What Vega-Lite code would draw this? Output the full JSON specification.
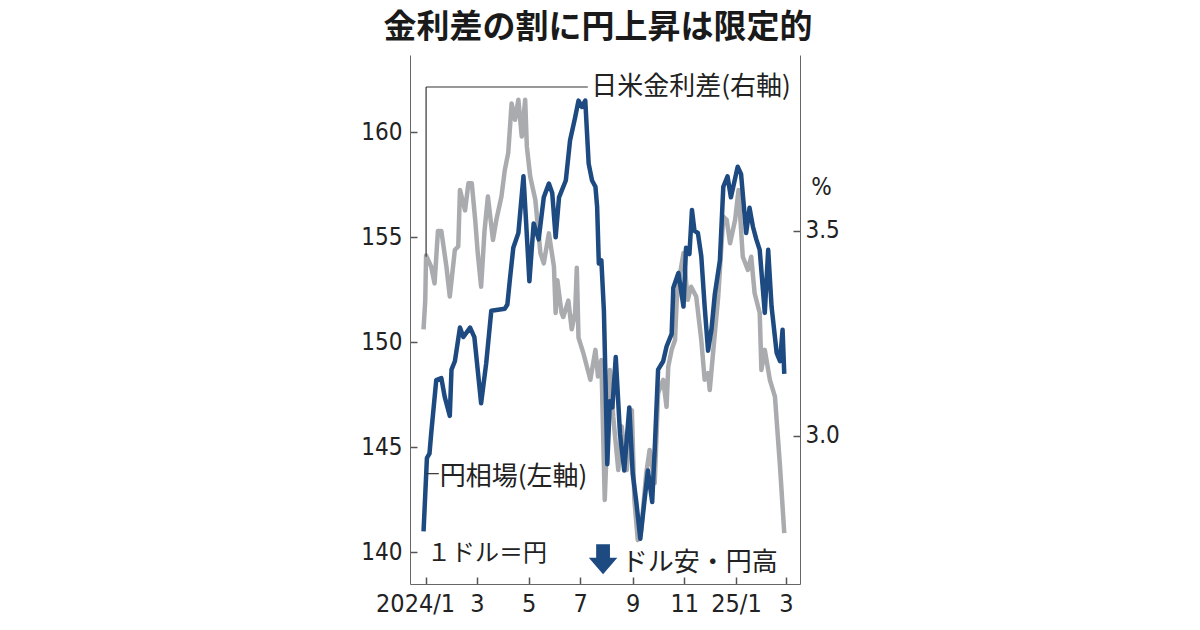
{
  "$schema": "https://vega.github.io/schema/vega-lite/v6.json",
  "width": 390,
  "height": 529,
  "autosize": {"type": "none"},
  "padding": {"left": 410, "top": 55, "right": 400, "bottom": 46},
  "background": "white",
  "config": {
    "view": {"stroke": null},
    "font": "Noto Sans CJK JP"
  },
  "title": {
    "text": "金利差の割に円上昇は限定的",
    "font": "Noto Sans CJK JP",
    "fontSize": 33,
    "fontWeight": "bold",
    "color": "#1a1a1a",
    "anchor": "middle",
    "offset": 10,
    "dx": -7
  },
  "datasets": {
    "spread": [
      {"date": "2023/12/29", "v": 3.26},
      {"date": "2023/12/31", "v": 3.33},
      {"date": "2024/01/01", "v": 3.44},
      {"date": "2024/01/07", "v": 3.413},
      {"date": "2024/01/11", "v": 3.372},
      {"date": "2024/01/15", "v": 3.5},
      {"date": "2024/01/19", "v": 3.5},
      {"date": "2024/01/25", "v": 3.413},
      {"date": "2024/01/29", "v": 3.34},
      {"date": "2024/02/04", "v": 3.454},
      {"date": "2024/02/08", "v": 3.462},
      {"date": "2024/02/10", "v": 3.6},
      {"date": "2024/02/16", "v": 3.55},
      {"date": "2024/02/20", "v": 3.616},
      {"date": "2024/02/24", "v": 3.616},
      {"date": "2024/02/28", "v": 3.527},
      {"date": "2024/03/02", "v": 3.446},
      {"date": "2024/03/06", "v": 3.364},
      {"date": "2024/03/10", "v": 3.5},
      {"date": "2024/03/14", "v": 3.584},
      {"date": "2024/03/20", "v": 3.478},
      {"date": "2024/03/24", "v": 3.527},
      {"date": "2024/03/30", "v": 3.584},
      {"date": "2024/04/03", "v": 3.649},
      {"date": "2024/04/07", "v": 3.69},
      {"date": "2024/04/11", "v": 3.811},
      {"date": "2024/04/15", "v": 3.771},
      {"date": "2024/04/19", "v": 3.82},
      {"date": "2024/04/23", "v": 3.73},
      {"date": "2024/04/27", "v": 3.82},
      {"date": "2024/04/29", "v": 3.706},
      {"date": "2024/05/03", "v": 3.632},
      {"date": "2024/05/09", "v": 3.576},
      {"date": "2024/05/15", "v": 3.446},
      {"date": "2024/05/19", "v": 3.421},
      {"date": "2024/05/25", "v": 3.494},
      {"date": "2024/05/31", "v": 3.413},
      {"date": "2024/06/02", "v": 3.3},
      {"date": "2024/06/04", "v": 3.38},
      {"date": "2024/06/09", "v": 3.3},
      {"date": "2024/06/11", "v": 3.29},
      {"date": "2024/06/17", "v": 3.33},
      {"date": "2024/06/21", "v": 3.26},
      {"date": "2024/06/25", "v": 3.3},
      {"date": "2024/06/27", "v": 3.41},
      {"date": "2024/06/29", "v": 3.24},
      {"date": "2024/07/05", "v": 3.2},
      {"date": "2024/07/13", "v": 3.137},
      {"date": "2024/07/19", "v": 3.21},
      {"date": "2024/07/22", "v": 3.145},
      {"date": "2024/07/26", "v": 3.185},
      {"date": "2024/07/30", "v": 2.844},
      {"date": "2024/08/03", "v": 3.063},
      {"date": "2024/08/05", "v": 3.161},
      {"date": "2024/08/09", "v": 3.047},
      {"date": "2024/08/15", "v": 2.917},
      {"date": "2024/08/19", "v": 3.023},
      {"date": "2024/08/25", "v": 2.917},
      {"date": "2024/08/31", "v": 3.063},
      {"date": "2024/09/03", "v": 2.844},
      {"date": "2024/09/07", "v": 2.746},
      {"date": "2024/09/11", "v": 2.77},
      {"date": "2024/09/17", "v": 2.909},
      {"date": "2024/09/21", "v": 2.966},
      {"date": "2024/09/27", "v": 2.885},
      {"date": "2024/10/01", "v": 3.104},
      {"date": "2024/10/07", "v": 3.137},
      {"date": "2024/10/11", "v": 3.071},
      {"date": "2024/10/13", "v": 3.169},
      {"date": "2024/10/17", "v": 3.21},
      {"date": "2024/10/21", "v": 3.234},
      {"date": "2024/10/23", "v": 3.332},
      {"date": "2024/10/27", "v": 3.397},
      {"date": "2024/10/31", "v": 3.446},
      {"date": "2024/11/05", "v": 3.332},
      {"date": "2024/11/09", "v": 3.364},
      {"date": "2024/11/15", "v": 3.34},
      {"date": "2024/11/21", "v": 3.234},
      {"date": "2024/11/25", "v": 3.137},
      {"date": "2024/11/29", "v": 3.153},
      {"date": "2024/12/01", "v": 3.112},
      {"date": "2024/12/07", "v": 3.25},
      {"date": "2024/12/11", "v": 3.34},
      {"date": "2024/12/17", "v": 3.535},
      {"date": "2024/12/21", "v": 3.527},
      {"date": "2024/12/25", "v": 3.47},
      {"date": "2024/12/31", "v": 3.527},
      {"date": "2025/01/04", "v": 3.6},
      {"date": "2025/01/09", "v": 3.437},
      {"date": "2025/01/15", "v": 3.405},
      {"date": "2025/01/19", "v": 3.437},
      {"date": "2025/01/23", "v": 3.348},
      {"date": "2025/01/29", "v": 3.3},
      {"date": "2025/01/31", "v": 3.161},
      {"date": "2025/02/04", "v": 3.21},
      {"date": "2025/02/10", "v": 3.137},
      {"date": "2025/02/16", "v": 3.096},
      {"date": "2025/02/22", "v": 2.925},
      {"date": "2025/02/27", "v": 2.763}
    ],
    "yen": [
      {"date": "2023/12/29", "v": 141.0},
      {"date": "2024/01/02", "v": 144.5},
      {"date": "2024/01/05", "v": 144.7},
      {"date": "2024/01/07", "v": 145.65},
      {"date": "2024/01/13", "v": 148.2},
      {"date": "2024/01/19", "v": 148.3},
      {"date": "2024/01/23", "v": 147.4},
      {"date": "2024/01/29", "v": 146.5},
      {"date": "2024/01/31", "v": 148.7},
      {"date": "2024/02/04", "v": 149.1},
      {"date": "2024/02/10", "v": 150.7},
      {"date": "2024/02/14", "v": 150.25},
      {"date": "2024/02/22", "v": 150.7},
      {"date": "2024/02/27", "v": 150.25},
      {"date": "2024/03/06", "v": 147.1},
      {"date": "2024/03/12", "v": 149.0},
      {"date": "2024/03/18", "v": 151.5},
      {"date": "2024/04/03", "v": 151.6},
      {"date": "2024/04/06", "v": 151.8},
      {"date": "2024/04/09", "v": 153.0},
      {"date": "2024/04/13", "v": 154.5},
      {"date": "2024/04/19", "v": 155.2},
      {"date": "2024/04/25", "v": 157.9},
      {"date": "2024/04/28", "v": 155.8},
      {"date": "2024/05/02", "v": 152.9},
      {"date": "2024/05/07", "v": 155.65},
      {"date": "2024/05/13", "v": 154.9},
      {"date": "2024/05/19", "v": 156.9},
      {"date": "2024/05/25", "v": 157.55},
      {"date": "2024/05/29", "v": 157.1},
      {"date": "2024/06/02", "v": 155.0},
      {"date": "2024/06/06", "v": 156.9},
      {"date": "2024/06/14", "v": 157.7},
      {"date": "2024/06/19", "v": 159.6},
      {"date": "2024/06/25", "v": 160.7},
      {"date": "2024/06/29", "v": 161.5},
      {"date": "2024/07/03", "v": 161.2},
      {"date": "2024/07/07", "v": 161.5},
      {"date": "2024/07/11", "v": 158.5},
      {"date": "2024/07/15", "v": 157.7},
      {"date": "2024/07/19", "v": 157.4},
      {"date": "2024/07/21", "v": 156.45},
      {"date": "2024/07/23", "v": 153.75},
      {"date": "2024/07/26", "v": 153.9},
      {"date": "2024/07/29", "v": 151.5},
      {"date": "2024/07/31", "v": 148.0},
      {"date": "2024/08/02", "v": 144.2},
      {"date": "2024/08/05", "v": 147.2},
      {"date": "2024/08/08", "v": 146.9},
      {"date": "2024/08/12", "v": 149.3},
      {"date": "2024/08/17", "v": 145.65},
      {"date": "2024/08/22", "v": 143.9},
      {"date": "2024/08/28", "v": 146.9},
      {"date": "2024/09/01", "v": 143.75},
      {"date": "2024/09/05", "v": 142.5},
      {"date": "2024/09/10", "v": 140.65},
      {"date": "2024/09/15", "v": 142.5},
      {"date": "2024/09/19", "v": 143.9},
      {"date": "2024/09/24", "v": 142.4},
      {"date": "2024/09/27", "v": 144.9},
      {"date": "2024/10/01", "v": 148.7},
      {"date": "2024/10/07", "v": 149.1},
      {"date": "2024/10/11", "v": 149.8},
      {"date": "2024/10/17", "v": 150.4},
      {"date": "2024/10/19", "v": 152.6},
      {"date": "2024/10/25", "v": 153.3},
      {"date": "2024/10/31", "v": 151.7},
      {"date": "2024/11/03", "v": 154.5},
      {"date": "2024/11/07", "v": 154.2},
      {"date": "2024/11/10", "v": 156.3},
      {"date": "2024/11/13", "v": 155.3},
      {"date": "2024/11/17", "v": 155.2},
      {"date": "2024/11/21", "v": 154.1},
      {"date": "2024/11/25", "v": 151.7},
      {"date": "2024/11/29", "v": 149.6},
      {"date": "2024/12/03", "v": 150.6},
      {"date": "2024/12/07", "v": 152.3},
      {"date": "2024/12/13", "v": 153.9},
      {"date": "2024/12/17", "v": 157.4},
      {"date": "2024/12/22", "v": 157.9},
      {"date": "2024/12/26", "v": 156.9},
      {"date": "2025/01/03", "v": 158.35},
      {"date": "2025/01/07", "v": 158.0},
      {"date": "2025/01/13", "v": 155.2},
      {"date": "2025/01/17", "v": 156.4},
      {"date": "2025/01/21", "v": 155.5},
      {"date": "2025/01/25", "v": 154.9},
      {"date": "2025/01/29", "v": 154.4},
      {"date": "2025/02/04", "v": 151.4},
      {"date": "2025/02/08", "v": 154.4},
      {"date": "2025/02/12", "v": 151.7},
      {"date": "2025/02/18", "v": 149.5},
      {"date": "2025/02/22", "v": 149.1},
      {"date": "2025/02/25", "v": 150.6},
      {"date": "2025/02/27", "v": 148.5}
    ]
  },
  "encoding": {
    "x": {
      "field": "date", "type": "temporal",
      "axis": {
        "values": [
          {"year": 2024, "month": 1, "date": 1}, {"year": 2024, "month": 3, "date": 1},
          {"year": 2024, "month": 5, "date": 1}, {"year": 2024, "month": 7, "date": 1},
          {"year": 2024, "month": 9, "date": 1}, {"year": 2024, "month": 11, "date": 1},
          {"year": 2025, "month": 1, "date": 1}, {"year": 2025, "month": 3, "date": 1}
        ],
        "labelExpr": "month(datum.value) == 0 ? (year(datum.value) == 2024 ? '2024/1' : '25/1') : '' + (month(datum.value) + 1)",
        "title": null, "grid": false,
        "domainColor": "#666", "tickColor": "#555", "tickWidth": 1.5, "tickSize": -7, "labelPadding": 14,
        "labelFont": "Liberation Sans Narrow, DejaVu Sans Condensed, sans-serif",
        "labelFontSize": 25, "labelColor": "#222",
        "labelOffset": {"condition": {"test": "year(datum.value) == 2024 && month(datum.value) == 0", "value": -11}, "value": 0}
      },
      "scale": {"domain": [{"year": 2023, "month": 12, "date": 13}, {"year": 2025, "month": 3, "date": 17, "hours": 14}]}
    }
  },
  "layer": [
    {
      "data": {"name": "spread"},
      "mark": {"type": "line", "color": "#a9abae", "strokeWidth": 4.5, "strokeJoin": "round"},
      "encoding": {
        "y": {
          "field": "v", "type": "quantitative",
          "scale": {"domain": [2.639, 3.929], "zero": false, "nice": false},
          "axis": {
            "orient": "right", "values": [3.0, 3.5], "format": ".1f", "grid": false,
            "domainColor": "#666", "tickColor": "#555", "tickWidth": 1.5, "tickSize": -7, "labelPadding": 12,
            "labelFont": "Liberation Sans Narrow, DejaVu Sans Condensed, sans-serif",
            "labelFontSize": 24, "labelColor": "#222",
            "title": "%", "titleAngle": 0, "titleX": 21, "titleY": 132,
            "titleAlign": "center", "titleBaseline": "middle",
            "titleFont": "Liberation Sans Narrow, DejaVu Sans Condensed, sans-serif",
            "titleFontSize": 24, "titleFontWeight": "normal", "titleColor": "#222"
          }
        }
      }
    },
    {
      "data": {"values": [
        {"date": "2024/01/01", "date2": "2024/01/01", "v": 3.437, "v2": 3.851},
        {"date": "2024/01/01", "date2": "2024/07/10", "v": 3.851, "v2": 3.851}
      ]},
      "mark": {"type": "rule", "color": "#333", "strokeWidth": 1.2},
      "encoding": {
        "x2": {"field": "date2"},
        "y": {"field": "v", "type": "quantitative", "axis": null, "scale": {"domain": [2.639, 3.929], "zero": false, "nice": false}},
        "y2": {"field": "v2"}
      }
    },
    {
      "data": {"values": [{"date": "2024/07/14", "v": 3.851, "label": "日米金利差(右軸)"}]},
      "mark": {"type": "text", "font": "Noto Sans CJK JP", "fontSize": 26, "align": "left", "baseline": "middle", "color": "#222"},
      "encoding": {
        "y": {"field": "v", "type": "quantitative", "axis": null, "scale": {"domain": [2.639, 3.929], "zero": false, "nice": false}},
        "text": {"field": "label"}
      }
    },
    {
      "data": {"name": "yen"},
      "mark": {"type": "line", "color": "#1d4a80", "strokeWidth": 4.5, "strokeJoin": "round"},
      "encoding": {
        "y": {
          "field": "v", "type": "quantitative",
          "scale": {"domain": [138.5, 163.67], "zero": false, "nice": false},
          "axis": {
            "orient": "left", "values": [140, 145, 150, 155, 160], "title": null, "grid": false,
            "domainColor": "#666", "tickColor": "#555", "tickWidth": 1.5, "tickSize": -7, "labelPadding": 15,
            "labelFont": "Liberation Sans Narrow, DejaVu Sans Condensed, sans-serif",
            "labelFontSize": 24, "labelColor": "#222"
          }
        }
      }
    },
    {
      "data": {"values": [
        {"date": "2024/01/01", "date2": "2024/01/16", "v": 143.75}
      ]},
      "mark": {"type": "rule", "color": "#333", "strokeWidth": 1.2},
      "encoding": {
        "x2": {"field": "date2"},
        "y": {"field": "v", "type": "quantitative", "axis": null, "scale": {"domain": [138.5, 163.67], "zero": false, "nice": false}}
      }
    },
    {
      "data": {"values": [
        {"date": "2024/01/17", "v": 143.6, "label": "円相場(左軸)"},
        {"date": "2024/08/19", "v": 139.5, "label": "ドル安・円高"}
      ]},
      "mark": {"type": "text", "font": "Noto Sans CJK JP", "fontSize": 26, "align": "left", "baseline": "middle", "color": "#222"},
      "encoding": {
        "y": {"field": "v", "type": "quantitative", "axis": null, "scale": {"domain": [138.5, 163.67], "zero": false, "nice": false}},
        "text": {"field": "label"}
      }
    },
    {
      "data": {"values": [
        {"date": "2024/01/02", "v": 139.95, "label": "１ドル＝円"}
      ]},
      "mark": {"type": "text", "font": "Noto Sans CJK JP", "fontSize": 24, "align": "left", "baseline": "middle", "color": "#222"},
      "encoding": {
        "y": {"field": "v", "type": "quantitative", "axis": null, "scale": {"domain": [138.5, 163.67], "zero": false, "nice": false}},
        "text": {"field": "label"}
      }
    },
    {
      "data": {"values": [
        {"date": "2024/07/28", "v": 139.68}
      ]},
      "mark": {
        "type": "point", "filled": true, "opacity": 1, "color": "#1d4a80", "size": 900, "strokeWidth": 0,
        "shape": "M-0.46,-1L0.46,-1L0.46,-0.1L0.95,-0.1L0,1L-0.95,-0.1L-0.46,-0.1Z"
      },
      "encoding": {
        "y": {"field": "v", "type": "quantitative", "axis": null, "scale": {"domain": [138.5, 163.67], "zero": false, "nice": false}}
      }
    }
  ],
  "resolve": {"scale": {"y": "independent"}}
}
